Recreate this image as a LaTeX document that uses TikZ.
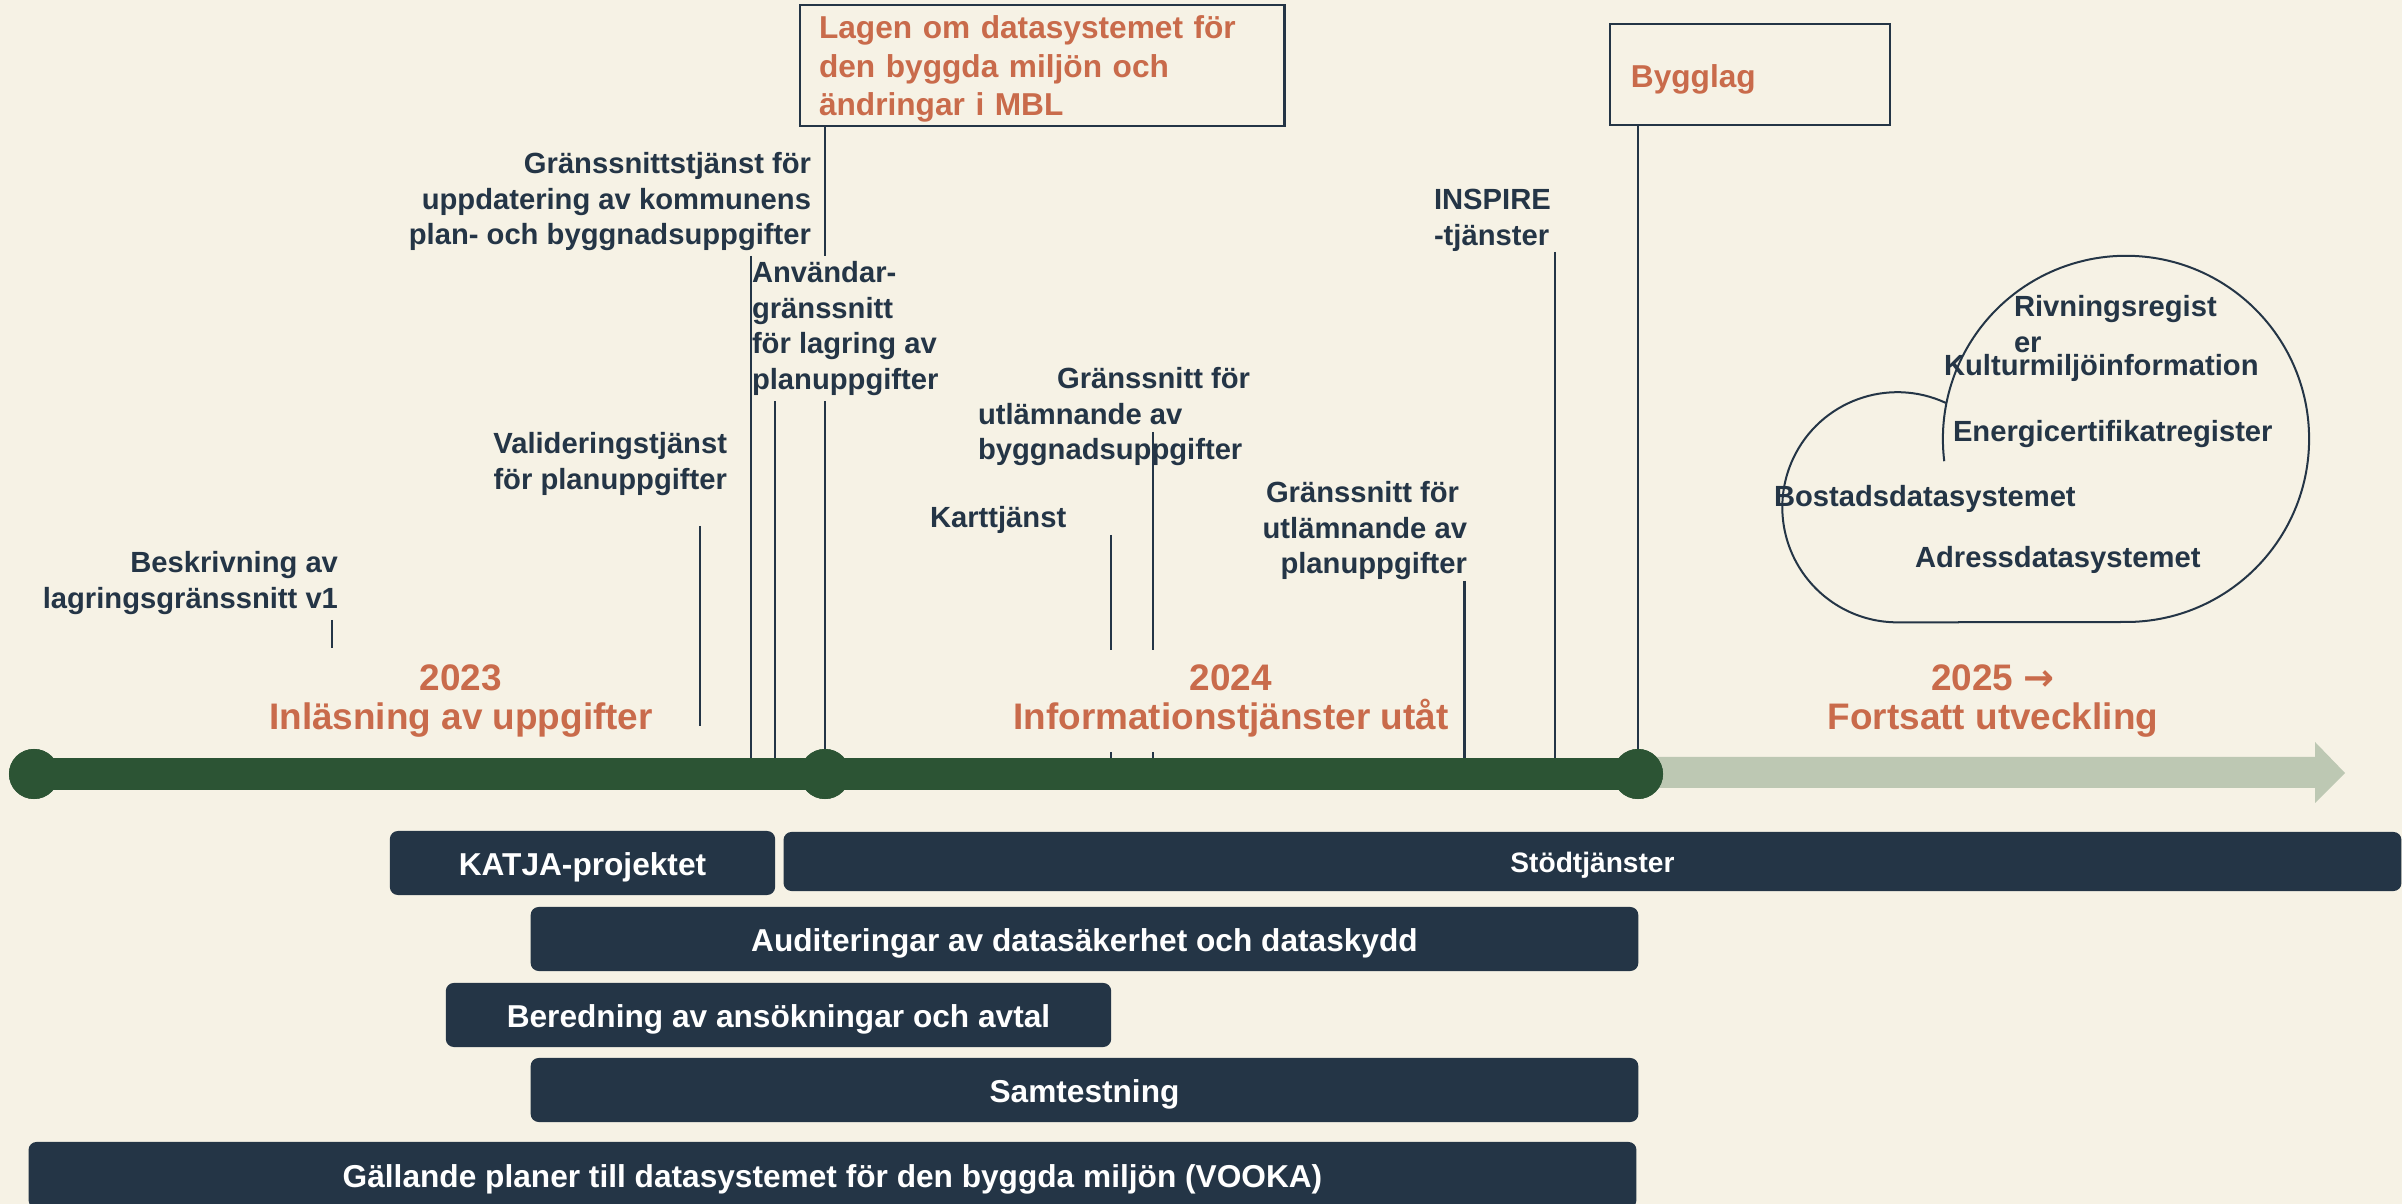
\documentclass[tikz,border=0pt]{standalone}
\usepackage{fontspec}
\setmainfont{Liberation Sans}
\newfontfamily\arrowfont{DejaVu Sans}
\definecolor{paper}{HTML}{F6F2E5}
\definecolor{navy}{HTML}{243546}
\definecolor{forest}{HTML}{2C5434}
\definecolor{sage}{HTML}{BDC8B3}
\definecolor{rust}{HTML}{C96B4B}
\begin{document}
\begin{tikzpicture}[x=0.01cm,y=-0.01cm,
  every node/.style={inner sep=0pt, outer sep=0pt},
  lbl/.style={font=\bfseries\fontsize{8.3}{10.2}\selectfont, text=navy},
  head/.style={font=\bfseries\fontsize{10.5}{11.1}\selectfont, text=rust, align=center,
    fill=paper, inner xsep=0.6mm, minimum height=10.2mm},
  leader/.style={draw=navy, line width=0.22mm},
  dot/.style={circle, fill=forest, minimum size=5mm},
  phase/.style={rounded corners=0.8mm, fill=navy, text=white,
    font=\bfseries\fontsize{9}{11}\selectfont, text height=8.9pt, text depth=1.9pt},
  lawbox/.style={draw=navy, line width=0.25mm, fill=paper, text=rust,
    font=\bfseries\fontsize{9}{10.9}\selectfont, align=left},
]
\useasboundingbox (0,0) rectangle (2402,1204);
\clip (0,0) rectangle (2402,1204);
\fill[paper] (0,0) rectangle (2402,1204);

% future part of the timeline
\fill[sage] (1638,757) -- (2315,757) -- (2315,742) -- (2345,773)
  -- (2315,803) -- (2315,788) -- (1638,788) -- cycle;

% milestones on the timeline
\node[dot] (m23) at (34,774) {};
\node[dot] (m24) at (825,774) {};
\node[dot] (m25) at (1638,774) {};

% law boxes at the top
\node[lawbox, anchor=north west, text width=44.6mm, inner xsep=1.9mm, inner ysep=0.4mm]
  (lagen) at (800,5) {\rule{0pt}{8.45pt}Lagen om datasystemet för\\den byggda miljön och\\ändringar i MBL};
\node[lawbox, minimum width=28mm, minimum height=10.1mm, text width=23.8mm,
  text height=9.4pt, text depth=1.9pt] (bygglag) at (1750,74.5) {Bygglag};

% leader lines down to the timeline
\draw[leader] (332,620) -- (332,648);
\draw[leader] (700,526) -- (700,726);
\draw[leader] (751,256) -- (751,774);
\draw[leader] (775,400) -- (775,774);
\draw[leader] (m24 |- lagen.south) -- (m24);
\draw[leader] (1111,535) -- (1111,774);
\draw[leader] (1152.6,432) -- (1152.6,774);
\draw[leader] (1464.5,581) -- (1464.5,774);
\draw[leader] (1555,252) -- (1555,774);
\draw[leader] (m25 |- bygglag.south) -- (m25);

% past part of the timeline
\fill[forest] (m23.center) ++(0,-16) rectangle ([yshift=-0.16cm]m25.center);
\node[dot] at (m23) {};
\node[dot] at (m24) {};
\node[dot] at (m25) {};

% year headings
\node[head] (h23) at (461,701) {2023\\Inläsning av uppgifter};
\node[head] (h24) at (1231,701) {2024\\Informationstjänster utåt};
\node[head, fill=none] (h25) at (1993,701) {2025 {\arrowfont\bfseries →}\\Fortsatt utveckling};

% deliverables
\node[lbl, align=right, anchor=north east] (besk) at (338,551)
  {Beskrivning av\\lagringsgränssnitt v1};
\node[lbl, align=right, anchor=north east] (valid) at (727,432)
  {Valideringstjänst\\för planuppgifter};
\node[lbl, align=right, anchor=north east] (grs) at (811,152)
  {Gränssnittstjänst för\\uppdatering av kommunens\\plan- och byggnadsuppgifter};
\node[lbl, align=left, anchor=north west, fill=paper, inner ysep=0.5mm] (anv) at (752,256)
  {Användar-\\gränssnitt\\för lagring av\\planuppgifter};
\node[lbl, align=left, anchor=north west] (byg) at (978,367)
  {\hspace*{7.9mm}Gränssnitt för\\utlämnande av\\byggnadsuppgifter};
\node[lbl, anchor=north west] (kart) at (930,506) {Karttjänst};
\node[lbl, align=right, anchor=north east] (plan) at (1467,481)
  {Gränssnitt för\hspace*{0.8mm}\\utlämnande av\\planuppgifter};
\node[lbl, align=left, anchor=north west] (insp) at (1434,189) {INSPIRE\\-tjänster};

% upcoming registers
\draw[navy, line width=0.2mm] (1946,403) arc[start angle=65, end angle=270, radius=11.5mm]
  -- (2126,622) arc[start angle=270, end angle=547, radius=18.3mm];
\node[lbl, align=left, anchor=north west] (rivn) at (2014,295) {Rivningsregist\\er};
\node[lbl, anchor=north west] (kult) at (1944,354) {Kulturmiljöinformation};
\node[lbl, anchor=north west] (energ) at (1953,420) {Energicertifikatregister};
\node[lbl, anchor=north west] (bost) at (1774,485) {Bostadsdatasystemet};
\node[lbl, anchor=north west] (adr) at (1915,546) {Adressdatasystemet};

% work streams
\node[phase, minimum width=38.5mm, minimum height=6.4mm] (katja) at (582.5,863) {KATJA-projektet};
\node[phase, minimum width=161.7mm, minimum height=5.9mm, text height=8pt, text depth=1.7pt,
  font=\bfseries\fontsize{8}{10}\selectfont] (stod) at (1592.5,861.5) {Stödtjänster};
\node[phase, minimum width=110.7mm, minimum height=6.4mm] (audit) at (1084.5,939)
  {Auditeringar av datasäkerhet och dataskydd};
\node[phase, minimum width=66.5mm, minimum height=6.4mm] (bered) at (778.5,1015)
  {Beredning av ansökningar och avtal};
\node[phase, minimum width=110.7mm, minimum height=6.4mm] (samt) at (1084.5,1090) {Samtestning};
\node[phase, minimum width=160.7mm, minimum height=6.6mm] (gall) at (832.5,1175)
  {Gällande planer till datasystemet för den byggda miljön (VOOKA)};
\end{tikzpicture}
\end{document}
